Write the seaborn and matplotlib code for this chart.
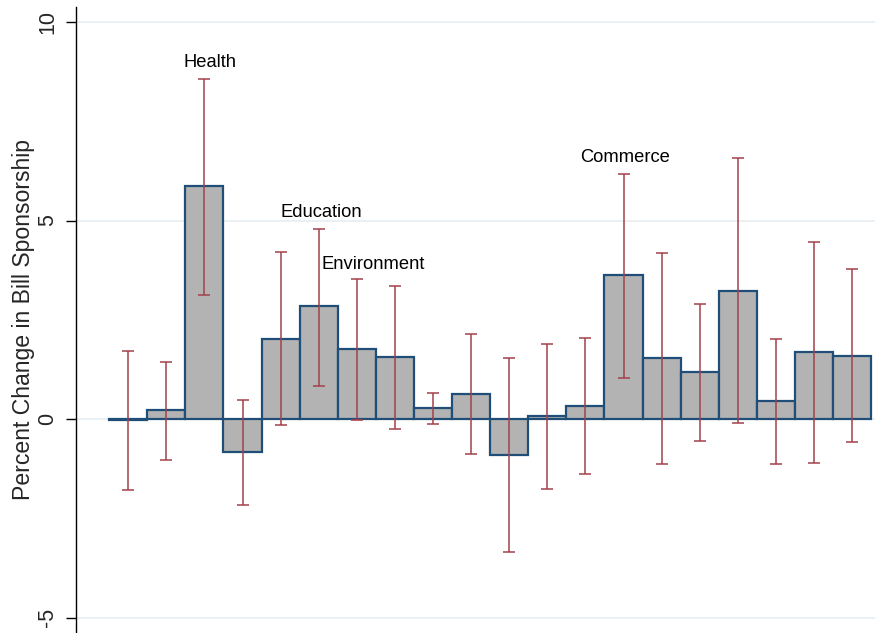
import numpy as np
import pandas as pd
import matplotlib
matplotlib.use("Agg")
import matplotlib.pyplot as plt
import seaborn as sns

# Estimated change in bill sponsorship by policy topic, with confidence bounds
topic_index = list(range(20))
estimate = [-0.03, 0.22, 5.86, -0.84, 2.02, 2.84, 1.76, 1.56, 0.27, 0.63,
            -0.90, 0.07, 0.33, 3.62, 1.54, 1.18, 3.23, 0.45, 1.69, 1.60]
ci_low = [-1.78, -1.03, 3.12, -2.16, -0.16, 0.84, -0.02, -0.24, -0.12, -0.87,
          -3.35, -1.76, -1.39, 1.03, -1.13, -0.55, -0.11, -1.14, -1.10, -0.59]
ci_high = [1.72, 1.43, 8.57, 0.47, 4.20, 4.79, 3.53, 3.36, 0.65, 2.13,
           1.54, 1.89, 2.05, 6.18, 4.19, 2.90, 6.57, 2.02, 4.47, 3.77]

# Named topics annotated above their bars: (label, x position, y position)
topic_labels = ["Health", "Education", "Environment", "Commerce"]
label_x = [2.15, 5.08, 6.43, 13.03]
label_y = [8.97, 5.21, 3.90, 6.60]

df = pd.DataFrame({"topic": topic_index, "estimate": estimate})

sns.set_style("white")
plt.rcParams["font.family"] = ["Liberation Sans", "DejaVu Sans"]

fig = plt.figure(figsize=(8.75, 6.33), dpi=100)
ax = fig.add_axes([0.0869, 0.0, 0.9131, 0.989])

bar_fill = "#b3b3b3"
bar_edge = "#1f4e79"
err_color = "#a3404a"

sns.barplot(data=df, x="topic", y="estimate", order=topic_index,
            color=bar_fill, saturation=1, width=1.0,
            edgecolor=bar_edge, linewidth=1.6, errorbar=None, ax=ax, zorder=2)

est = np.array(estimate)
yerr = np.vstack([est - np.array(ci_low), np.array(ci_high) - est])
ax.errorbar(topic_index, est, yerr=yerr, fmt="none", ecolor=err_color,
            elinewidth=1.1, capsize=4.3, capthick=1.1, zorder=3)

for text, xx, yy in zip(topic_labels, label_x, label_y):
    ax.text(xx, yy, text, ha="center", va="center", fontsize=13.2, color="black")

ax.set_xlim(-1.37, 19.6)
ax.set_ylim(-5.39, 10.38)
ax.set_yticks([-5, 0, 5, 10])
ax.set_yticklabels(["-5", "0", "5", "10"], rotation=90, va="center")
ax.set_xticks([])
ax.set_xlabel("")
ax.set_ylabel("Percent Change in Bill Sponsorship", fontsize=16.6)
ax.yaxis.set_label_coords(-0.0513, 0.5)

ax.yaxis.grid(True, color="#e6eef1", linewidth=1.2, zorder=0)
ax.set_axisbelow(True)
ax.tick_params(axis="y", direction="out", length=7.2, width=1.0, color="black",
               pad=5.5, left=True, labelsize=15.5)
for side in ["top", "right", "bottom"]:
    ax.spines[side].set_visible(False)
ax.spines["left"].set_color("black")
ax.spines["left"].set_linewidth(1.0)

fig.savefig("out.png", dpi=100)
